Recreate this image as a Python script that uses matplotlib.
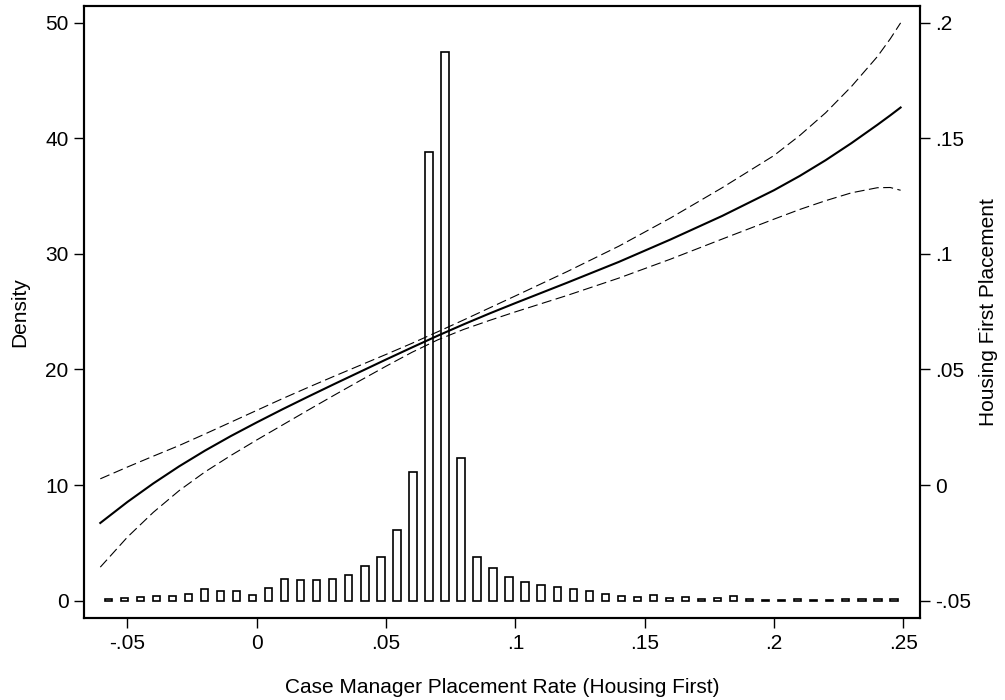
import matplotlib
matplotlib.use("Agg")
import matplotlib.pyplot as plt
import numpy as np

plt.rcParams["font.family"] = ["Liberation Sans", "DejaVu Sans"]

# histogram of placement rates: 50 bins
bin_start = -0.0605
bin_width = 0.0062
density = [0.17, 0.23, 0.30, 0.40, 0.40, 0.60, 0.98, 0.83, 0.83, 0.52,
           1.10, 1.90, 1.75, 1.75, 1.84, 2.20, 3.00, 3.80, 6.10, 11.10,
           38.80, 47.50, 12.30, 3.80, 2.82, 2.04, 1.60, 1.38, 1.18, 0.98,
           0.83, 0.55, 0.37, 0.30, 0.46, 0.20, 0.30, 0.15, 0.25, 0.40,
           0.15, 0.10, 0.08, 0.15, 0.10, 0.10, 0.15, 0.15, 0.15, 0.15]

# fitted housing-first placement with confidence band
fit_x = [-0.0605, -0.05, -0.04, -0.03, -0.02, -0.01, 0.0, 0.01, 0.02, 0.03,
         0.04, 0.05, 0.06, 0.07, 0.08, 0.09, 0.10, 0.12, 0.14, 0.16,
         0.18, 0.20, 0.21, 0.22, 0.23, 0.24, 0.245, 0.249]
fit_y = [-0.0164, -0.0073, 0.0007, 0.0081, 0.0149, 0.0212, 0.0271, 0.0328, 0.0383, 0.0437,
         0.0490, 0.0543, 0.0595, 0.0646, 0.0695, 0.0742, 0.0787, 0.0875, 0.0965, 0.1062,
         0.1164, 0.1275, 0.1337, 0.1405, 0.1479, 0.1558, 0.1599, 0.1633]
ci_hi = [0.0027, 0.0078, 0.0125, 0.0171, 0.0221, 0.0272, 0.0323, 0.0374, 0.0423, 0.0471,
         0.0518, 0.0565, 0.0613, 0.0663, 0.0714, 0.0766, 0.0818, 0.0923, 0.1033, 0.1155,
         0.1286, 0.1425, 0.1512, 0.1610, 0.1724, 0.1853, 0.1930, 0.1999]
ci_lo = [-0.0355, -0.0225, -0.0118, -0.0024, 0.0057, 0.0128, 0.0195, 0.0260, 0.0325, 0.0389,
         0.0452, 0.0514, 0.0574, 0.0628, 0.0673, 0.0712, 0.0749, 0.0820, 0.0895, 0.0977,
         0.1064, 0.1150, 0.1192, 0.1230, 0.1264, 0.1286, 0.1287, 0.1275]

x_ticks = [-0.05, 0, 0.05, 0.1, 0.15, 0.2, 0.25]
x_labels = ["-.05", "0", ".05", ".1", ".15", ".2", ".25"]
left_ticks = [0, 10, 20, 30, 40, 50]
right_ticks = [-0.05, 0, 0.05, 0.1, 0.15, 0.2]
right_labels = ["-.05", "0", ".05", ".1", ".15", ".2"]

fig = plt.figure(figsize=(10.05, 7.0), dpi=100)
ax = fig.add_axes([84 / 1005, 82 / 700, 836 / 1005, 612 / 700])

centers = bin_start + bin_width * (np.arange(len(density)) + 0.5)
ax.bar(centers, density, width=bin_width * 0.46, facecolor="white",
       edgecolor="black", linewidth=1.2)

ylo, yhi = -1.5, 51.44
ax.set_xlim(-0.0668, 0.2565)
ax.set_ylim(ylo, yhi)
ax.set_xticks(x_ticks)
ax.set_xticklabels(x_labels)
ax.set_yticks(left_ticks)
ax.set_yticklabels([str(t) for t in left_ticks])

# right axis shares the frame: -.05 sits on density 0, .2 on density 50
ax2 = ax.twinx()
ax2.set_ylim(-0.05 + ylo * 0.005, -0.05 + yhi * 0.005)
ax2.plot(fit_x, fit_y, color="black", lw=1.5)
ax2.plot(fit_x, ci_hi, color="black", lw=0.8, ls=(0, (9, 4)))
ax2.plot(fit_x, ci_lo, color="black", lw=0.8, ls=(0, (9, 4)))
ax2.set_yticks(right_ticks)
ax2.set_yticklabels(right_labels)

for a in (ax, ax2):
    for s in a.spines.values():
        s.set_linewidth(1.5)
    a.tick_params(direction="out", length=7.5, width=1.0, pad=3.5,
                  labelsize=15, colors="black")

ax.tick_params(axis="x", pad=4)

fig.text(502 / 1005, 7 / 700, "Case Manager Placement Rate (Housing First)",
         ha="center", va="baseline", fontsize=15)
fig.text(20 / 1005, 1 - 312 / 700, "Density", rotation=90,
         ha="center", va="center", fontsize=15)
fig.text(988 / 1005, 1 - 312 / 700, "Housing First Placement", rotation=90,
         ha="center", va="center", fontsize=15)

fig.savefig("out.png", dpi=100, facecolor="white")
